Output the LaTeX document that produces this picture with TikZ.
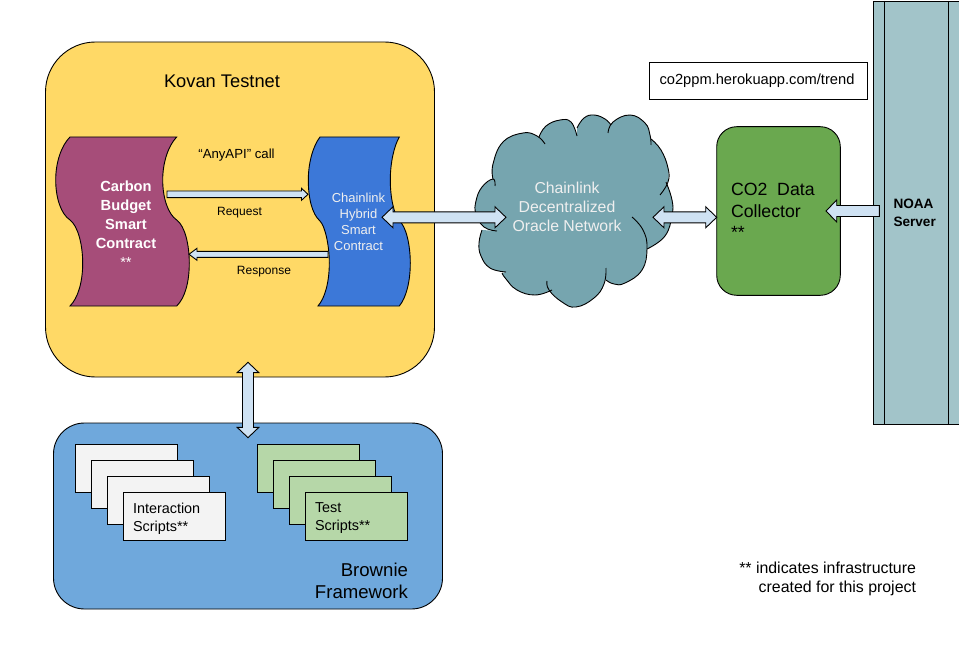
\documentclass[tikz,border=0pt]{standalone}
\usepackage{fontspec}
\setmainfont{Liberation Sans}
\usetikzlibrary{calc}
\definecolor{kovanY}{HTML}{FFD966}
\definecolor{purpleC}{HTML}{A64D79}
\definecolor{blueC}{HTML}{3C78D8}
\definecolor{cloudC}{HTML}{76A5AF}
\definecolor{greenC}{HTML}{6AA84F}
\definecolor{serverC}{HTML}{A2C4C9}
\definecolor{brownieC}{HTML}{6FA8DC}
\definecolor{arrowC}{HTML}{CFE2F3}
\definecolor{docW}{HTML}{F3F3F3}
\definecolor{docG}{HTML}{B6D7A8}
\definecolor{softW}{HTML}{EFEFEF}
\newcommand{\fs}[2]{\fontsize{#1}{#2}\selectfont}
\tikzset{
  x=1pt,y=-1pt,
  every path/.append style={line width=0.9pt},
  ghost/.style={inner sep=0pt,outer sep=0pt},
  label/.style={inner sep=0pt,outer sep=0pt,align=center,text=black},
  doc/.style={draw=black,inner sep=0pt,outer sep=0pt,minimum width=102pt,minimum height=48pt},
  fatone/.style args={#1/#2/#3}{draw=black,fill=arrowC,to path={
    -- ($(\tikztostart)!#1pt!90:(\tikztotarget)$)
    -- ($($(\tikztotarget)!#3pt!(\tikztostart)$)!#1pt!90:(\tikztotarget)$)
    -- ($($(\tikztotarget)!#3pt!(\tikztostart)$)!#2pt!90:(\tikztotarget)$)
    -- (\tikztotarget)
    -- ($($(\tikztotarget)!#3pt!(\tikztostart)$)!#2pt!-90:(\tikztotarget)$)
    -- ($($(\tikztotarget)!#3pt!(\tikztostart)$)!#1pt!-90:(\tikztotarget)$)
    -- ($(\tikztostart)!#1pt!-90:(\tikztotarget)$)
    -- cycle}},
  fattwo/.style args={#1/#2/#3}{draw=black,fill=arrowC,to path={
    -- ($($(\tikztostart)!#3pt!(\tikztotarget)$)!#2pt!90:(\tikztotarget)$)
    -- ($($(\tikztostart)!#3pt!(\tikztotarget)$)!#1pt!90:(\tikztotarget)$)
    -- ($($(\tikztotarget)!#3pt!(\tikztostart)$)!#1pt!90:(\tikztotarget)$)
    -- ($($(\tikztotarget)!#3pt!(\tikztostart)$)!#2pt!90:(\tikztotarget)$)
    -- (\tikztotarget)
    -- ($($(\tikztotarget)!#3pt!(\tikztostart)$)!#2pt!-90:(\tikztotarget)$)
    -- ($($(\tikztotarget)!#3pt!(\tikztostart)$)!#1pt!-90:(\tikztotarget)$)
    -- ($($(\tikztostart)!#3pt!(\tikztotarget)$)!#1pt!-90:(\tikztotarget)$)
    -- ($($(\tikztostart)!#3pt!(\tikztotarget)$)!#2pt!-90:(\tikztotarget)$)
    -- cycle}},
}
\begin{document}
\begin{tikzpicture}
\useasboundingbox (0,0) rectangle (959,650);
\fill[white] (0,0) rectangle (959,650);

% Kovan
\node[draw=black,fill=kovanY,rounded corners=50pt,ghost,minimum width=389pt,minimum height=335pt] (kovan) at (240,209.5) {};
\node[label,font=\fs{18.3}{22}] (kovanT) at (222,81) {Kovan Testnet};

% Brownie
\node[draw=black,fill=brownieC,rounded corners=31pt,ghost,minimum width=389pt,minimum height=186pt] (brownie) at (248,516) {};
\node[label,align=right,anchor=north east,font=\fs{18.6}{22}] (brownieT) at (408,563) {Brownie\\Framework};

% Scrolls
\draw[black,fill=purpleC] (70,137) .. controls (61,146) and (55.7,163) .. (55.7,180)
  .. controls (55.7,198) and (61,214) .. (70,220) .. controls (78,226) and (82.7,245) .. (82.7,263)
  .. controls (82.7,282) and (78,298) .. (70,306) -- (176.7,306)
  .. controls (185,298) and (189.3,282) .. (189.3,263) .. controls (189.3,245) and (185,226) .. (176.7,220)
  .. controls (168,214) and (162.7,198) .. (162.7,180) .. controls (162.7,163) and (168,146) .. (176.7,137) -- cycle;
\node[ghost,minimum width=134pt,minimum height=169pt] (carbon) at (122,221.5) {};
\node[label,text=white,font=\fs{14.67}{19}\bfseries] (carbonT) at (126,224) {Carbon\\Budget\\Smart\\Contract\\\mdseries **};

\draw[black,fill=blueC] (320,137) .. controls (313,146) and (308.3,163) .. (308.3,180)
  .. controls (308.3,198) and (312,214) .. (320,221) .. controls (325,226) and (329.3,245) .. (329.3,263)
  .. controls (329.3,282) and (325,298) .. (318,306) -- (399.3,306)
  .. controls (406,298) and (410.3,282) .. (410.3,263) .. controls (410.3,245) and (406,226) .. (399.3,221)
  .. controls (394,214) and (390.3,198) .. (390.3,180) .. controls (390.3,163) and (394,146) .. (399.3,137) -- cycle;
\node[ghost,minimum width=102pt,minimum height=169pt] (chain) at (359,221.5) {};
\node[label,text=softW,font=\fs{13}{16}] (chainT) at (358.5,221.5) {Chainlink\\Hybrid\\Smart\\Contract};

\node[label,font=\fs{13.2}{14}] (anyapi) at (236.5,155.5) {“AnyAPI” call};
\node[label,font=\fs{12}{14}] (reqT) at (239.5,213) {Request};
\node[label,font=\fs{12}{14}] (respT) at (264,272) {Response};

% Cloud fill and outline
\fill[cloudC] plot[smooth,tension=0.75] coordinates {(497,231) (484,227) (476,214) (476,201) (482,187) (493,179)}
  -- plot[smooth,tension=0.75] coordinates {(493,179) (493,164) (503,142) (523,133) (537,136) (545,144)}
  -- plot[smooth,tension=0.75] coordinates {(539,137) (546,126) (560,120) (571,122) (577,136)}
  -- plot[smooth,tension=0.75] coordinates {(577,128) (584,118) (594,115) (605,119) (611,125)}
  -- plot[smooth,tension=0.75] coordinates {(608,133) (613,122) (630,115) (645,123) (650,135) (651,145)}
  -- plot[smooth,tension=0.75] coordinates {(651,139) (661,150) (668,168) (668,182)}
  -- plot[smooth,tension=0.75] coordinates {(666,182) (672,200) (672,215) (665,236) (647,249)}
  -- plot[smooth,tension=0.75] coordinates {(647,248) (642,270) (625,283) (614,284) (606,280)}
  -- plot[smooth,tension=0.75] coordinates {(606,268) (604,284) (594,298) (576,307) (562,302) (549,290)}
  -- plot[smooth,tension=0.75] coordinates {(552,290) (535,295) (517,290) (506,279) (502,273)}
  -- plot[smooth,tension=0.75] coordinates {(506,272) (490,268) (481,256) (479,243) (482,230)}
  -- cycle;
\draw[black] plot[smooth,tension=0.75] coordinates {(497,231) (484,227) (476,214) (476,201) (482,187) (493,179) (495,186)};
\draw[black] plot[smooth,tension=0.75] coordinates {(493,179) (493,164) (503,142) (523,133) (537,136) (545,144)};
\draw[black] plot[smooth,tension=0.75] coordinates {(539,137) (546,126) (560,120) (571,122) (577,136)};
\draw[black] plot[smooth,tension=0.75] coordinates {(577,128) (584,118) (594,115) (605,119) (611,125)};
\draw[black] plot[smooth,tension=0.75] coordinates {(608,133) (613,122) (630,115) (645,123) (650,135) (651,145)};
\draw[black] plot[smooth,tension=0.75] coordinates {(651,139) (661,150) (668,168) (668,182) (660,195)};
\draw[black] plot[smooth,tension=0.75] coordinates {(666,182) (672,200) (672,215) (665,236) (647,249)};
\draw[black] plot[smooth,tension=0.75] coordinates {(632,217) (643,230) (647,248) (642,270) (625,283) (614,284) (606,280)};
\draw[black] plot[smooth,tension=0.75] coordinates {(606,268) (604,284) (594,298) (576,307) (562,302) (549,290) (547,281)};
\draw[black] plot[smooth,tension=0.75] coordinates {(552,290) (535,295) (517,290) (506,279) (502,273)};
\draw[black] plot[smooth,tension=0.75] coordinates {(506,272) (490,268) (481,256) (479,243) (482,230)};
\node[ghost,minimum width=198pt,minimum height=192pt] (oracle) at (574,211) {};
\node[label,text=softW,font=\fs{15.8}{19}] (oracleT) at (567,207) {Chainlink\\Decentralized\\Oracle Network};

% Collector
\node[draw=black,fill=greenC,rounded corners=20pt,ghost,minimum width=123.6pt,minimum height=168.6pt] (collector) at (778.5,211) {};
\node[label,align=left,anchor=north west,font=\fs{17.7}{21.5}] (collectorT) at (731,183.5) {CO2\ \ Data\\Collector\\**};

% Server
\node[draw=black,fill=serverC,ghost,minimum width=87pt,minimum height=423pt] (server) at (917.2,212.5) {};
\draw[black] (884.3,1) -- (884.3,424) (948.7,1) -- (948.7,424);
\node[label,align=left,anchor=north west,font=\fs{13.6}{18}\bfseries] (serverT) at (893.5,199) {NOAA\\Server};

% Url box
\node[draw=black,fill=white,ghost,minimum width=218pt,minimum height=37pt,font=\fs{14.67}{16}] (url) at (758,80.5) {\kern-2pt co2ppm.herokuapp.com/trend};

% Docs
\node[doc,fill=docW] (w1) at (126.3,468.3) {};
\node[doc,fill=docW] (w2) at (142.3,484.3) {};
\node[doc,fill=docW] (w3) at (158.3,500.3) {};
\node[doc,fill=docW] (w4) at (174.3,516.3) {};
\node[label,align=left,anchor=north west,font=\fs{14.4}{18}] (w4T) at (133,503) {Interaction\\Scripts**};
\node[doc,fill=docG] (g1) at (308.3,468.3) {};
\node[doc,fill=docG] (g2) at (324.3,484.3) {};
\node[doc,fill=docG] (g3) at (340.3,500.3) {};
\node[doc,fill=docG] (g4) at (356.3,516.3) {};
\node[label,align=left,anchor=north west,font=\fs{14.4}{18}] (g4T) at (315,503) {Test\\Scripts**};

\node[label,align=right,anchor=north east,font=\fs{15.9}{19}] (note) at (916,562) {** indicates infrastructure\\created for this project};

% Connectors
\draw[fatone=3.3/6/6.5] ([xshift=-22pt,yshift=27.2pt]carbon.east) to ([yshift=27.2pt]chain.west);
\draw[fatone=3/6/8] ([xshift=20pt,yshift=-32.8pt]chain.west) to ([yshift=-32.8pt]carbon.east);
\draw[fattwo=5.5/10.5/11] ([xshift=-28pt,yshift=4.2pt]chain.east) to ([xshift=31pt,yshift=-6.3pt]oracle.west);
\draw[fattwo=5.5/10.5/11] ([xshift=-20pt,yshift=-6.3pt]oracle.east) to ([yshift=-6.3pt]collector.west);
\draw[fatone=5.5/11/10.7] ([xshift=5.6pt,yshift=1.5pt]server.west) to ([xshift=-14.3pt]collector.east);
\draw[fattwo=5.5/10.8/10.3] ([xshift=8pt,yshift=14.7pt]kovan.south) to ([yshift=-14.7pt]brownie.north);
\end{tikzpicture}
\end{document}
